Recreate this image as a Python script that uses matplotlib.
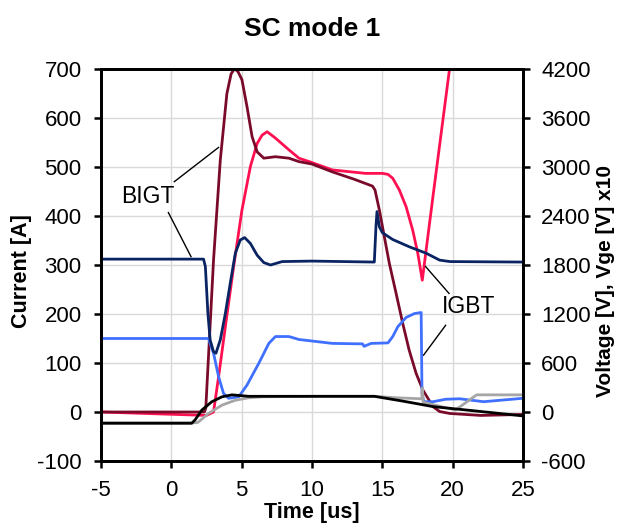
import numpy as np
import matplotlib.pyplot as plt

plt.rcParams['font.family'] = ['Liberation Sans', 'DejaVu Sans']
plt.rcParams['axes.unicode_minus'] = False

# BIGT current [A]
t_i_bigt = [-5, 2.35, 2.45, 3.0, 3.48, 3.95, 4.25, 4.5, 4.75, 5.02, 5.38, 5.74, 6.1, 6.57,
            7.4, 8.36, 9.07, 10.0, 11.45, 13.0, 14.3, 14.48, 14.79, 15.14, 15.5, 15.98,
            16.45, 16.9, 17.4, 17.88, 18.6, 19.07, 19.8, 22.0, 25]
i_bigt = [0, 0, 8, 310, 514, 650, 690, 701, 694, 678, 623, 562, 531, 518,
          521, 518, 511, 506, 490, 475, 461, 453, 412, 358, 303, 242,
          181, 127, 79, 45, 11, 1, -3, -7, -5]

# IGBT current [A]
t_i_igbt = [-5, 2.5, 3.0, 3.36, 3.84, 4.43, 5.02, 5.62, 6.1, 6.45, 6.81, 7.4, 8.36,
            9.07, 9.8, 11.45, 13.8, 15.0, 15.4, 15.74, 16.21, 16.69, 17.16, 17.52, 17.84,
            18.6, 19.8, 20.5]
i_igbt = [0, -7, 0, 72, 174, 297, 412, 501, 548, 565, 572, 559, 535,
          518, 511, 494, 487, 487, 485, 477, 453, 419, 371, 324, 269,
          440, 705, 860]

# BIGT voltage [V]
t_v_bigt = [-5, 2.29, 2.42, 2.6, 2.76, 3.0, 3.17, 3.48, 3.84, 4.19, 4.55, 4.9, 5.21, 5.62,
            6.1, 6.57, 7.05, 7.88, 10, 14.43, 14.55, 14.62, 14.79, 15.0, 15.74, 16.93,
            18.12, 19.07, 19.8, 25]
v_bigt = [1872, 1872, 1780, 1206, 882, 738, 720, 882, 1206, 1578, 1944, 2106, 2136, 2064,
          1920, 1830, 1800, 1842, 1848, 1836, 2280, 2454, 2268, 2196, 2112, 2022,
          1944, 1860, 1842, 1836]

# IGBT voltage [V]
t_v_igbt = [-5, 2.64, 3.0, 3.36, 3.71, 4.07, 4.79, 5.38, 6.21, 6.93, 7.4, 8.36, 9.07,
            11.45, 13.6, 13.7, 14.2, 15.4, 15.74, 16.1, 16.69, 17.29, 17.76, 17.82, 17.95,
            18.6, 19.5, 20.5, 22.2, 25]
v_igbt = [900, 900, 720, 432, 228, 168, 186, 330, 594, 840, 924, 924, 888,
          840, 834, 804, 840, 846, 924, 1044, 1158, 1206, 1218, 228, 126,
          126, 156, 162, 126, 168]

# Vge x10
t_vge_bigt = [-5, 1.45, 1.69, 2.17, 2.88, 3.6, 4.31, 5.5, 10, 14.43, 16.5, 18.6, 21, 25]
vge_bigt = [-138, -138, -96, 24, 126, 186, 210, 192, 192, 192, 132, 66, 24, -48]

t_vge_igbt = [-5, 1.7, 1.9, 2.64, 3.6, 4.55, 5.5, 6.5, 10, 14.43, 16, 17.8, 17.85, 17.9,
              20.2, 21.7, 25]
vge_igbt = [-132, -132, -126, -18, 84, 144, 174, 186, 192, 192, 174, 162, 294, 120,
            24, 210, 210]

fig = plt.figure(figsize=(6.17, 5.29), dpi=100)
ax = fig.add_axes([101 / 617, 68 / 529, 422 / 617, 392 / 529])
ax2 = ax.twinx()

ax.set_xlim(-5, 25)
ax.set_ylim(-100, 700)
ax2.set_ylim(-600, 4200)
ax.set_xticks(np.arange(-5, 26, 5))
ax.set_yticks(np.arange(-100, 701, 100))
ax2.set_yticks(np.arange(-600, 4201, 600))
ax.grid(color="#d9d9d9", linewidth=1)

ax.plot(t_i_igbt, i_igbt, color="#ff1050", lw=2)
ax.plot(t_i_bigt, i_bigt, color="#7a0a2a", lw=2)
ax2.plot(t_v_igbt, v_igbt, color="#4070ff", lw=2)
ax2.plot(t_v_bigt, v_bigt, color="#0a2463", lw=2)
ax2.plot(t_vge_igbt, vge_igbt, color="#a6a6a6", lw=2)
ax2.plot(t_vge_bigt, vge_bigt, color="black", lw=2)

# callouts
ax.text(-1.64, 439, "BIGT", fontsize=16.5, ha="center", va="center")
ax.plot([0.21, 3.36], [470, 540], color="black", lw=1)
ax.plot([-0.21, 1.4], [407, 317], color="black", lw=1)
ax.text(21.1, 215, "IGBT", fontsize=16.5, ha="center", va="center")
ax.plot([19.74, 18.07], [242, 297], color="black", lw=1)
ax.plot([19.5, 17.93], [177, 116], color="black", lw=1)

for a in (ax, ax2):
    for s in a.spines.values():
        s.set_linewidth(2)
    a.tick_params(direction="out", length=5, width=1.8, labelsize=16, pad=9)
ax2.tick_params(pad=8)

ax.set_title("SC mode 1", fontsize=19, fontweight="bold", pad=24)
ax.set_xlabel("Time [us]", fontsize=15.5, fontweight="bold")
ax.set_ylabel("Current [A]", fontsize=15.5, fontweight="bold")
ax2.set_ylabel("Voltage [V], Vge [V] x10", fontsize=15, fontweight="bold")
ax.xaxis.set_label_coords(0.5, -0.105)
ax.yaxis.set_label_coords(-0.163, 0.485)
ax2.yaxis.set_label_coords(1.172, 0.46)

fig.savefig("out.png", dpi=100)
